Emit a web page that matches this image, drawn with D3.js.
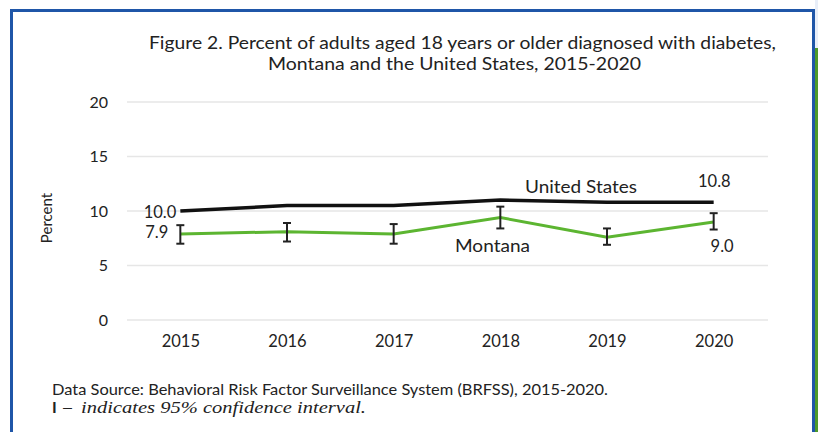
<!DOCTYPE html>
<html>
<head>
<meta charset="utf-8">
<script src="https://cdn.jsdelivr.net/npm/d3@7"></script>
<style>
  html, body { margin: 0; padding: 0; background: #fff; }
  svg { display: block; }
  text { fill: #222; }
</style>
</head>
<body>
<svg id="chart" width="818" height="432" font-family="Lato, 'Open Sans', sans-serif"></svg>
<script>
const years = ["2015", "2016", "2017", "2018", "2019", "2020"];
const usValues = [10.0, 10.5, 10.5, 11.0, 10.8, 10.8];
const mtValues = [7.9, 8.1, 7.9, 9.4, 7.6, 9.0];
const mtLower = [7.0, 7.2, 7.0, 8.4, 6.9, 8.3];
const mtUpper = [8.7, 8.9, 8.8, 10.4, 8.4, 9.8];
const yTicks = [0, 5, 10, 15, 20];
const titleLines = [
  "Figure 2. Percent of adults aged 18 years or older diagnosed with diabetes,",
  "Montana and the United States, 2015-2020"
];

const svg = d3.select("#chart");

// frame
svg.append("rect").attr("x", 0).attr("y", 0).attr("width", 818).attr("height", 432).attr("fill", "#fff");
svg.append("rect").attr("x", 815).attr("y", 0).attr("width", 3).attr("height", 48).attr("fill", "#e8eef8");
svg.append("rect").attr("x", 815).attr("y", 48).attr("width", 3).attr("height", 384).attr("fill", "#4e9a2a");
svg.append("path")
  .attr("d", "M11.5,432 V10.5 H813.5 V432")
  .attr("fill", "none").attr("stroke", "#1f56a8").attr("stroke-width", 3);

const x = d3.scalePoint().domain(years).range([127, 767]).padding(0.5);
const y = d3.scaleLinear().domain([0, 20]).range([320, 102]);

// title
const titleX = [149, 268];
const titleW = [627, 373];
svg.append("g").selectAll("text").data(titleLines).join("text")
  .attr("x", (d, i) => titleX[i]).attr("y", (d, i) => 49 + i * 21)
  .attr("font-size", 17.5)
  .attr("textLength", (d, i) => titleW[i]).attr("lengthAdjust", "spacingAndGlyphs")
  .text(d => d);

// gridlines
svg.append("g").selectAll("line").data(yTicks).join("line")
  .attr("x1", 127).attr("x2", 768)
  .attr("y1", d => y(d)).attr("y2", d => y(d))
  .attr("stroke", "#e6e6e6").attr("stroke-width", 1.5);

// y axis
const yAxis = svg.append("g").attr("transform", "translate(108,0)")
  .call(d3.axisLeft(y).tickValues(yTicks).tickSize(0).tickPadding(0));
yAxis.select(".domain").remove();
yAxis.selectAll("text").attr("font-size", 16).style("font-family", "Lato, sans-serif").attr("fill", "#222");

// x axis
const xAxis = svg.append("g").attr("transform", "translate(0,335)")
  .call(d3.axisBottom(x).tickSize(0).tickPadding(0));
xAxis.select(".domain").remove();
xAxis.selectAll("text").attr("font-size", 16.5).style("font-family", "Lato, sans-serif").attr("fill", "#222");

// y axis title
svg.append("text")
  .attr("transform", "translate(52,218) rotate(-90)")
  .attr("text-anchor", "middle").attr("font-size", 15)
  .text("Percent");

// lines
const line = (vals) => d3.line().x((d, i) => x(years[i])).y(d => y(d))(vals);
svg.append("path").attr("d", line(usValues))
  .attr("fill", "none").attr("stroke", "#111").attr("stroke-width", 3.5);
svg.append("path").attr("d", line(mtValues))
  .attr("fill", "none").attr("stroke", "#5cb531").attr("stroke-width", 3);

// error bars
const eb = svg.append("g").attr("stroke", "#222").attr("stroke-width", 2);
years.forEach((yr, i) => {
  const cx = x(yr);
  eb.append("line").attr("x1", cx).attr("x2", cx).attr("y1", y(mtUpper[i])).attr("y2", y(mtLower[i]));
  eb.append("line").attr("x1", cx - 4).attr("x2", cx + 4).attr("y1", y(mtUpper[i])).attr("y2", y(mtUpper[i]));
  eb.append("line").attr("x1", cx - 4).attr("x2", cx + 4).attr("y1", y(mtLower[i])).attr("y2", y(mtLower[i]));
});

// data labels
const fmt = d3.format(".1f");
svg.append("text").attr("x", x(years[0]) - 4).attr("y", y(usValues[0]) + 7)
  .attr("text-anchor", "end").attr("font-size", 16.5).text(fmt(usValues[0]));
svg.append("text").attr("x", x(years[0]) - 12).attr("y", y(mtValues[0]) + 4)
  .attr("text-anchor", "end").attr("font-size", 16.5).text(fmt(mtValues[0]));
svg.append("text").attr("x", x(years[5]) + 17).attr("y", y(usValues[5]) - 15)
  .attr("text-anchor", "end").attr("font-size", 16.5).text(fmt(usValues[5]));
svg.append("text").attr("x", x(years[5]) + 20).attr("y", y(mtValues[5]) + 30)
  .attr("text-anchor", "end").attr("font-size", 16.5).text(fmt(mtValues[5]));

// series labels
svg.append("text").attr("x", 525).attr("y", 193).attr("font-size", 16.5)
  .attr("textLength", 112).attr("lengthAdjust", "spacingAndGlyphs").text("United States");
svg.append("text").attr("x", 455).attr("y", 252).attr("font-size", 16.5)
  .attr("textLength", 75).attr("lengthAdjust", "spacingAndGlyphs").text("Montana");

// footnotes
svg.append("text").attr("x", 52).attr("y", 395).attr("font-size", 15)
  .attr("textLength", 556).attr("lengthAdjust", "spacingAndGlyphs")
  .text("Data Source: Behavioral Risk Factor Surveillance System (BRFSS), 2015-2020.");
svg.append("text").attr("x", 52).attr("y", 413).attr("font-size", 16).attr("font-weight", 700)
  .text("I");
svg.append("text").attr("x", 61).attr("y", 413).attr("font-size", 15)
  .attr("textLength", 13).attr("lengthAdjust", "spacingAndGlyphs")
  .text("\u2013");
svg.append("text").attr("x", 81).attr("y", 413)
  .style("font-family", "'Liberation Serif', 'DejaVu Serif', serif").style("font-style", "italic")
  .attr("font-size", 16.5).attr("textLength", 285).attr("lengthAdjust", "spacingAndGlyphs")
  .text("indicates 95% confidence interval.");
</script>
</body>
</html>
